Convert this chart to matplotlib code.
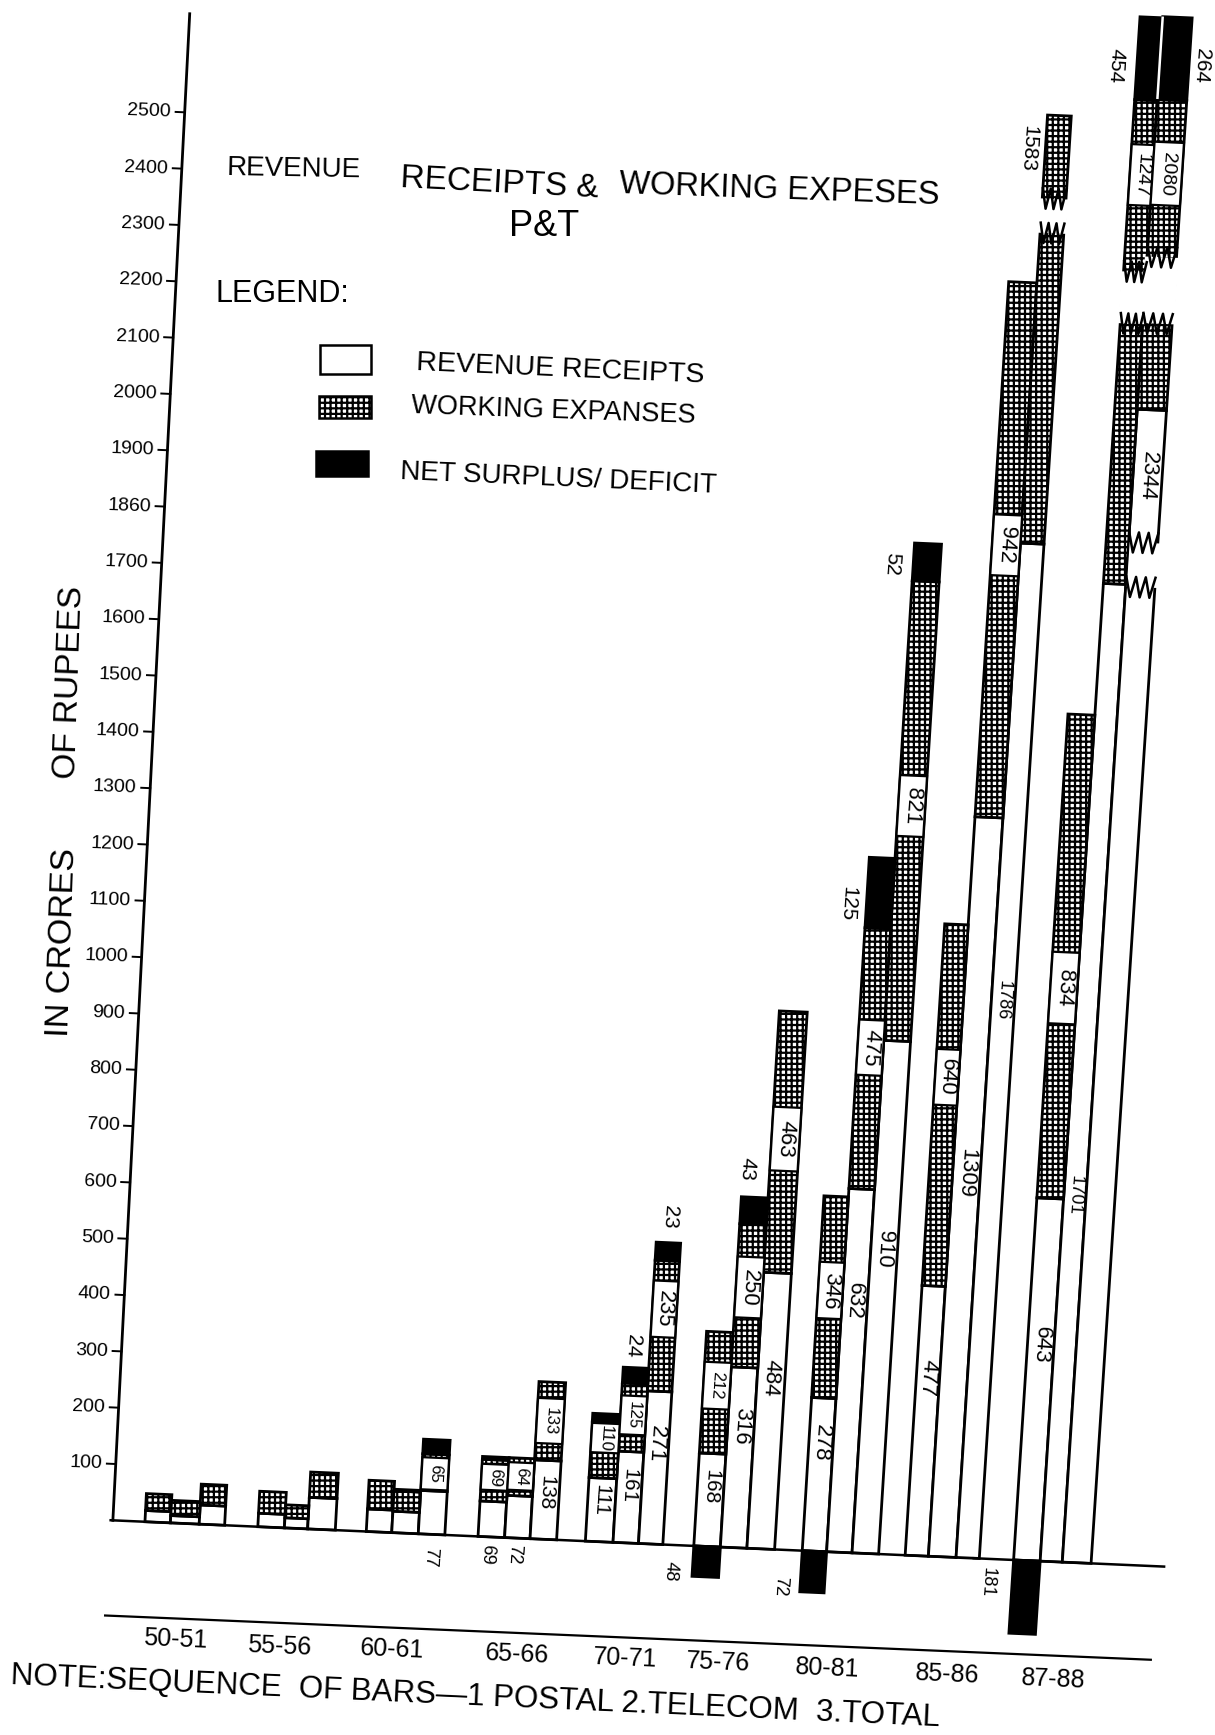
# -*- coding: utf-8 -*-
"""
Revenue receipts & working expenses P&T, scanned hand drawn chart.
The sheet was skewed on the scanner, so bars go through a skew transform.
"""
import numpy as np
import matplotlib
matplotlib.use('Agg')
import matplotlib.pyplot as plt
import matplotlib.transforms as mtransforms

# Data (heights as drawn, in crores):
years = ['50-51', '55-56', '60-61', '65-66', '70-71', '75-76', '80-81', '85-86', '87-88']
revenue = [20, 13, 34, 24, 18, 56, 40, 38, 77, 63, 75, 140, 113, 162, 271,
           165, 320, 490, 272, 645, 910, 479, 1313, 1801, 643, 1736, 2047]
expenses = [30, 27, 37, 39, 23, 45, 51, 36, 65, 74, 67, 139, 100, 121, 232,
            216, 254, 464, 358, 463, 816, 642, 950, 760, 859, 859, 550]
net = [0, 0, 0, 0, 0, 0, 0, 3, 26, 5, 0, 0, 14, 28, 32,
       -54, 48, 0, -73, 125, 67, 0, 0, 0, -130, 147, 147]
yticks = list(range(100, 2600, 100))
ytick_labels = ['100', '200', '300', '400', '500', '600', '700', '800', '900', '1000',
                '1100', '1200', '1300', '1400', '1500', '1600', '1700', '1860', '1900',
                '2000', '2100', '2200', '2300', '2400', '2500']

# Numbers in white boxes on the hatched parts: bar, box from, box to, text
box_bar = [8, 9, 10, 11, 12, 13, 14, 15, 16, 17, 18, 19, 20, 21, 22, 24, 25, 26]
box_low = [79, 83, 85, 170, 158, 192, 367, 244, 408, 671, 413, 847, 1273, 800, 1742, 953, 2408, 2410]
box_high = [136, 129, 134, 250, 210, 261, 467, 327, 516, 784, 513, 945, 1381, 899, 1850, 1080, 2516, 2522]
box_text = ['65', '69', '64', '133', '110', '125', '235', '212', '250', '463', '346',
            '475', '821', '640', '942', '834', '1247', '2080']

# Numbers written straight on the sheet: position along base, value, text
note_text = ['138', '111', '161', '271', '168', '316', '484', '278', '632', '910', '477',
             '1309', '1786', '643', '1701', '2344', '77', '69', '72', '48', '72', '181',
             '23', '24', '43', '125', '52', '1583', '454', '264']
note_pos = [491, 541, 565, 588, 639, 663, 687, 736, 758, 782, 828, 851, 874, 928, 950, 973,
            390, 441, 465, 607, 707, 893, 588, 561, 655, 730, 751, 849, 921, 997]
note_val = [82, 74, 102, 177, 106, 216, 304, 193, 446, 540, 316, 682, 990, 383, 650, 1929,
            -40, -32, -28, -47, -64, -42, 581, 350, 672, 1149, 1754, 2501, 2654, 2660]

# Broken bars: bar, gap from, gap to
break_bar = [23, 25, 26, 26]
break_low = [2352, 2198, 1732, 2200]
break_high = [2413, 2290, 1811, 2318]
break_pad = [2, 2, -1, 2]

# Bar edges along the base line, three bars per group
edges = [[131, 154, 180, 203], [233, 257, 278, 303], [331, 354, 378, 402],
         [432, 456, 479, 503], [529, 554, 577, 599], [627, 651, 675, 700],
         [725, 747, 770, 794], [818, 839, 864, 885], [916, 940, 960, 986]]
year_x = [158, 252, 354, 467, 565, 649, 748, 856, 952]
year_y = [1482, 1488, 1491, 1495, 1499, 1502, 1508, 1513, 1518]

# Skew of the sheet, coordinates are in the 1098 x 1568 picture
X0, Y0 = 102.0, 1374.0
PX_PER_UNIT = 0.509
BASE_SLOPE = 0.044
K0, K1 = 0.051, 1.63e-5


class SheetSkew(mtransforms.Transform):
    input_dims = 2
    output_dims = 2
    is_separable = False
    has_inverse = False

    def transform_non_affine(self, xy):
        xy = np.asarray(xy, dtype=float)
        x, v = xy[:, 0], xy[:, 1]
        k = K0 + K1*(x - X0)
        return np.column_stack((x + v*PX_PER_UNIT*k,
                                Y0 + BASE_SLOPE*(x - X0) - PX_PER_UNIT*v))


plt.rcParams['font.family'] = ['Liberation Sans', 'DejaVu Sans']
plt.rcParams['hatch.linewidth'] = 1.6

fig = plt.figure(figsize=(12.15, 17.35), dpi=100)
ax = fig.add_axes([0, 0, 1, 1])
ax.set_autoscale_on(False)
ax.set_xlim(0, 1098)
ax.set_ylim(1568, 0)
ax.axis('off')
tr = SheetSkew() + ax.transData

# Lefts and widths of all the bars:
lefts = np.array([e for g in edges for e in g[:3]], dtype=float)
widths = np.array([e for g in edges for e in np.diff(g)], dtype=float)
revenue = np.array(revenue, dtype=float)
expenses = np.array(expenses, dtype=float)
net = np.array(net, dtype=float)
LW = 2.0

# Bars:
ax.bar(lefts, revenue, widths, align='edge', fc='white', ec='black', lw=LW, transform=tr)
ax.bar(lefts, expenses, widths, bottom=revenue, align='edge', fc='white', ec='black',
       lw=LW, hatch='+++', transform=tr)
up = net > 0
down = net < 0
ax.bar(lefts[up], net[up], widths[up], bottom=(revenue + expenses)[up], align='edge',
       fc='black', ec='black', lw=LW, transform=tr)
ax.bar(lefts[down], net[down], widths[down], align='edge', fc='black', ec='black',
       lw=LW, transform=tr)

# Slit left between the two black tops of 87-88:
ax.plot([lefts[26], lefts[26]], [2600, 2742], color='white', lw=1.8, transform=tr)

# Number boxes on the hatching:
for b, lo, hi, s in zip(box_bar, box_low, box_high, box_text):
    ax.bar(lefts[b], hi - lo, widths[b], bottom=lo, align='edge', fc='white', ec='black',
           lw=1.6, transform=tr)
    fs = 16 if hi - lo > 90 else 12
    if len(s) == 4:
        fs = 14
    ax.text(lefts[b] + widths[b]/2, (lo + hi)/2, s, transform=tr, rotation=266,
            ha='center', va='center', fontsize=fs, rotation_mode='anchor')

# Breaks in the tall bars:
for b, lo, hi, pad in zip(break_bar, break_low, break_high, break_pad):
    ax.bar(lefts[b] - pad, hi - lo, widths[b] + pad + 2, bottom=lo, align='edge', fc='white',
           ec='none', transform=tr)
    zx = np.linspace(lefts[b], lefts[b] + widths[b], 7)
    for level in (lo, hi):
        zv = level + 18*np.where(np.arange(7) % 2 == 0, 1, -1)
        ax.plot(zx, zv, color='black', lw=1.8, transform=tr)

# Axes:
ax.plot([X0, X0], [0, 2675], color='black', lw=2.0, transform=tr)
ax.plot([X0 - 2, 864], [0, 0], color='black', lw=1.8, transform=tr)
ax.plot([880, 1052], [0, 0], color='black', lw=1.8, transform=tr)
for v, s in zip(yticks, ytick_labels):
    ax.plot([X0 - 8, X0], [v, v], color='black', lw=1.4, transform=tr)
    ax.text(X0 - 12, v, s, transform=tr, ha='right', va='center', fontsize=14, rotation=-2)

# Rule above the year labels:
ax.plot([95, 1040], [1460, 1500], color='black', lw=1.6)
for x, y, s in zip(year_x, year_y, years):
    ax.text(x, y, s, ha='center', va='center', fontsize=18, rotation=-2.5)

# Numbers on the sheet:
for x, v, s in zip(note_pos, note_val, note_text):
    fs = 16 if len(s) > 2 and v > 150 else 13
    if s in ('111', '161', '138', '168', '23', '24', '43', '52', '264', '454', '125', '1583'):
        fs = 15
    if s in ('1786', '1701'):
        fs = 13
    ax.text(x, v, s, transform=tr, rotation=266, ha='center', va='center', fontsize=fs,
            rotation_mode='anchor')

# Title:
ax.text(205, 152, 'REVENUE', fontsize=20, va='center', rotation=-1, rotation_mode='anchor')
ax.text(362, 161, 'RECEIPTS &', fontsize=24, va='center', rotation=-3, rotation_mode='anchor')
ax.text(560, 167, 'WORKING EXPESES', fontsize=23.5, va='center', rotation=-2, rotation_mode='anchor')
ax.text(460, 205, 'P&T', fontsize=26, va='center')

# Legend, drawn by hand on the sheet:
ax.text(195, 266, 'LEGEND:', fontsize=22, va='center')
ax.bar(289, 26, 46, bottom=312, align='edge', fc='white', ec='black', lw=1.8)
ax.bar(288, 20, 47, bottom=358, align='edge', fc='white', ec='black', lw=1.8, hatch='+++')
ax.bar(286, 22, 47, bottom=408, align='edge', fc='black', ec='black', lw=1.8)
ax.text(376, 328, 'REVENUE RECEIPTS', fontsize=20.5, va='center', rotation=-2.5, rotation_mode='anchor')
ax.text(372, 367, 'WORKING EXPANSES', fontsize=19.5, va='center', rotation=-2, rotation_mode='anchor')
ax.text(362, 427, 'NET SURPLUS/ DEFICIT', fontsize=20, va='center', rotation=-2.5, rotation_mode='anchor')

# Y axis title and note:
ax.text(57, 852, 'IN CRORES', fontsize=24.5, rotation=88, ha='center', va='center')
ax.text(63, 617, 'OF RUPEES', fontsize=24, rotation=88, ha='center', va='center')
ax.text(10, 1515, 'NOTE:SEQUENCE  OF BARS\u20141 POSTAL 2.TELECOM  3.TOTAL', fontsize=22.5,
        va='center', rotation=-2.6, rotation_mode='anchor')

plt.savefig('out.png', dpi=100)
